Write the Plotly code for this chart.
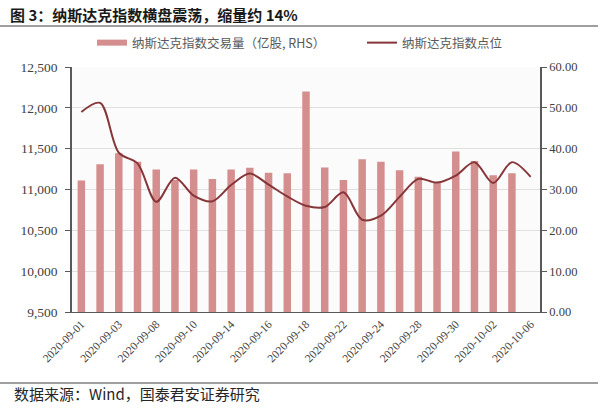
import plotly.graph_objects as go

dates = ["2020-09-01", "2020-09-02", "2020-09-03", "2020-09-04", "2020-09-08",
         "2020-09-09", "2020-09-10", "2020-09-11", "2020-09-14", "2020-09-15",
         "2020-09-16", "2020-09-17", "2020-09-18", "2020-09-21", "2020-09-22",
         "2020-09-23", "2020-09-24", "2020-09-25", "2020-09-28", "2020-09-29",
         "2020-09-30", "2020-10-01", "2020-10-02", "2020-10-05", "2020-10-06"]
volume = [32.2, 36.2, 38.9, 36.8, 34.9, 32.3, 34.9, 32.6, 34.9, 35.3,
          34.1, 34.0, 54.0, 35.4, 32.3, 37.4, 36.8, 34.7, 33.1, 31.8,
          39.3, 37.0, 33.5, 34.0, None]
index_level = [11950, 12060, 11450, 11320, 10850, 11145, 10925, 10855, 11055, 11195,
               11060, 10915, 10800, 10785, 10965, 10630, 10680, 10910, 11130, 11085,
               11170, 11335, 11080, 11335, 11155]
tick_labels = dates[::2]

L, R, T, B = 72, 60, 67, 96
W, H = 600, 408
PW, PH = W - L - R, H - T - B


def px(x):
    return (x - L) / PW


def py(y):
    return (H - B - y) / PH


serif = "Liberation Serif"
cjk = "Noto Sans CJK SC"
bar_color = "#d48e8e"
line_color = "#863539"
bar_name = "纳斯达克指数交易量（亿股, RHS）"
line_name = "纳斯达克指数点位"

fig = go.Figure()
fig.add_trace(go.Bar(
    x=dates, y=volume, name=bar_name, showlegend=False,
    marker=dict(color=bar_color, line=dict(width=0)),
    yaxis="y"))
# legend entry for the bars (flat wide swatch like the original)
fig.add_trace(go.Scatter(
    x=[None], y=[None], name=bar_name, mode="lines",
    line=dict(color=bar_color, width=6), yaxis="y", legend="legend"))
fig.add_trace(go.Scatter(
    x=dates, y=index_level, name=line_name, mode="lines",
    line=dict(color=line_color, width=2, shape="spline", smoothing=0.9),
    yaxis="y2", legend="legend2"))

legend_common = dict(orientation="h", yanchor="middle", xanchor="left",
                     font=dict(family=cjk, size=12.5, color="#595959"),
                     bgcolor="rgba(0,0,0,0)", itemwidth=30)

fig.update_layout(
    width=W, height=H,
    margin=dict(l=L, r=R, t=T, b=B),
    paper_bgcolor="white",
    plot_bgcolor="#fbfbfb",
    bargap=0.6,
    showlegend=True,
    legend=dict(x=px(92), y=py(43), **legend_common),
    legend2=dict(x=px(362), y=py(43), **legend_common),
    xaxis=dict(type="category", tickmode="array", tickvals=tick_labels, ticktext=tick_labels,
               tickangle=-45, showgrid=False, showline=True, linecolor="#595959", linewidth=1,
               ticks="", tickfont=dict(family=serif, size=11.5, color="#404040"),
               range=[-0.5, len(dates) - 0.5]),
    yaxis=dict(side="right", range=[0, 60], tickvals=[0, 10, 20, 30, 40, 50, 60],
               tickformat=".2f", showgrid=True, gridcolor="#e0e0e0", gridwidth=1,
               showline=True, linecolor="#595959", linewidth=1.5, ticks="outside",
               ticklen=5, tickcolor="#595959", zeroline=False,
               tickfont=dict(family=serif, size=12.5, color="#404040")),
    yaxis2=dict(side="left", overlaying="y", range=[9500, 12500],
                tickvals=[9500, 10000, 10500, 11000, 11500, 12000, 12500],
                tickformat=",d", showgrid=False, showline=True, linecolor="#595959",
                linewidth=1.5, ticks="outside", ticklen=5, tickcolor="#595959",
                zeroline=False, ticklabelstandoff=5,
                tickfont=dict(family=serif, size=13.5, color="#404040")),
)

fig.add_annotation(text="<b>图 3：纳斯达克指数横盘震荡，缩量约 14%</b>",
                   xref="paper", yref="paper", x=px(8), y=py(14),
                   xanchor="left", yanchor="middle", showarrow=False,
                   font=dict(family=cjk, size=15, color="#1a1a1a"))
fig.add_annotation(text="数据来源：Wind，国泰君安证券研究",
                   xref="paper", yref="paper", x=px(12), y=py(393),
                   xanchor="left", yanchor="middle", showarrow=False,
                   font=dict(family=cjk, size=15, color="#262626"))
fig.add_shape(type="line", xref="paper", yref="paper",
              x0=px(0), x1=px(598), y0=py(26), y1=py(26),
              line=dict(color="#7f7f7f", width=1.5))
fig.add_shape(type="line", xref="paper", yref="paper",
              x0=px(0), x1=px(598), y0=py(383), y1=py(383),
              line=dict(color="#7f7f7f", width=1.5))

fig.write_html("out.html")
